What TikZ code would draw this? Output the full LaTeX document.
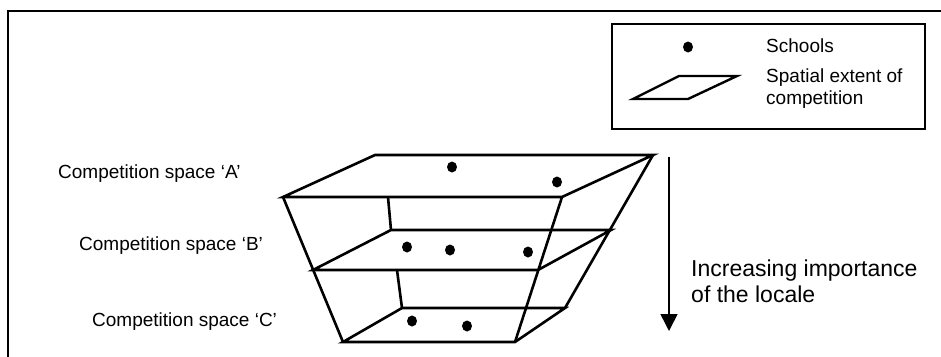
\documentclass[tikz,border=0pt]{standalone}
\usepackage{fontspec}
\setmainfont{Liberation Sans}
\usetikzlibrary{arrows.meta, positioning}

\begin{document}
\begin{tikzpicture}[x=1pt, y=-1pt,
		kante/.style={line width=2.6pt, line join=miter},
		schule/.style={fill=black},
		beschr/.style={anchor=west, inner sep=0pt, font=\fontsize{19}{22}\selectfont}]
	\useasboundingbox (0,0) rectangle (941,356);
	\clip (0,0) rectangle (941,356);
	
	% Rahmen
	\draw[line width=1.5pt] (8,370) -- (8,11) -- (950,11);
	
	% Legende
	\draw[line width=2.2pt] (612,24) rectangle (925,129);
	\fill[schule] (688,47) ellipse (5 and 5.5);
	\draw[kante, line width=2.4pt] (633,99) -- (679,76) -- (737,76) -- (688,99) -- cycle;
	\node[beschr] (schools) at (766,46) {Schools};
	\node[beschr, align=left] (extent) at (766,89) {Spatial extent of\\competition};
	
	% Ecken
	\coordinate (a1) at (375,155); \coordinate (a2) at (653,155);
	\coordinate (a3) at (562,197); \coordinate (a4) at (283,197);
	\coordinate (b1) at (391,230); \coordinate (b2) at (611,230);
	\coordinate (b3) at (538,270); \coordinate (b4) at (313,270);
	\coordinate (c1) at (402,308); \coordinate (c2) at (565,308);
	\coordinate (c3) at (515,342); \coordinate (c4) at (343,342);
	
	% Ebenen
	\draw[kante] (a1) -- (a2) -- (a3) -- (a4) -- cycle;
	\draw[kante] (b1) -- (b2) -- (b3) -- (b4) -- cycle;
	\draw[kante] (c1) -- (c2) -- (c3) -- (c4) -- cycle;
	
	% Seitenkanten
	\draw[kante] (a4) -- (c4);
	\draw[kante] (a3) -- (c3);
	\draw[kante] (a2) -- (c2);
	\draw[kante] (388,197) -- (b1);
	\draw[kante] (397,270) -- (c1);
	
	% Schulen
	\foreach \p in {(452,167), (557,182), (407,247), (450,250), (528,252), (412,321), (467,326)}
		\fill[schule] \p ellipse (5 and 5.5);
	
	% Beschriftung
	\node[beschr] (spaceA) at (58,174) {Competition space `A'};
	\node[beschr] (spaceB) at (79,246) {Competition space `B'};
	\node[beschr] (spaceC) at (92,322) {Competition space `C'};
	
	% Pfeil
	\coordinate (pfeilOben) at (669,157);
	\coordinate (pfeilUnten) at (669,331);
	\draw[-{Triangle[length=17pt, width=17pt]}, line width=1.6pt] (pfeilOben) -- (pfeilUnten);
	\node[anchor=west, inner sep=0pt, align=left, font=\fontsize{23}{26}\selectfont] (locale) at (691,281) {Increasing importance\\of the locale};
\end{tikzpicture}
\end{document}
